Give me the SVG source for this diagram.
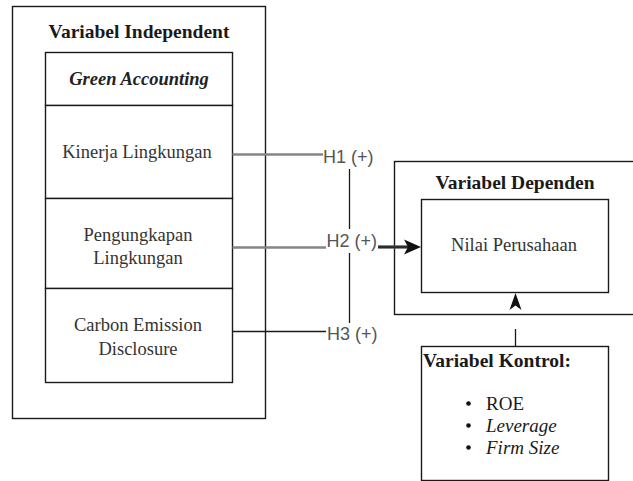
<svg xmlns="http://www.w3.org/2000/svg" width="633" height="481" viewBox="0 0 633 481">
<style>
.box{fill:#fff;stroke:#1a1a1a;stroke-width:1.4}
.gl{stroke:#858585;stroke-width:2.6;fill:none}
.bl{stroke:#1a1a1a;stroke-width:1.3;fill:none}
</style>
<g id="independent">
<rect class="box" x="12.5" y="6.5" width="253" height="412"/>
<text x="139" y="37.5" font-family="Liberation Serif" font-size="19.5" font-weight="bold" fill="#1a1a1a" text-anchor="middle">Variabel Independent</text>
</g>
<g id="green-accounting">
<rect class="box" x="45.5" y="52.5" width="187" height="53"/>
<text x="139" y="85" font-family="Liberation Serif" font-size="18.5" font-weight="bold" font-style="italic" fill="#222" text-anchor="middle">Green Accounting</text>
</g>
<g id="kinerja">
<rect class="box" x="45.5" y="105.5" width="187" height="93"/>
<text x="137" y="157.5" font-family="Liberation Serif" font-size="18.5" fill="#333" text-anchor="middle">Kinerja Lingkungan</text>
</g>
<g id="pengungkapan">
<rect class="box" x="45.5" y="198.5" width="187" height="90"/>
<text x="138" y="240.5" font-family="Liberation Serif" font-size="18.5" fill="#333" text-anchor="middle">Pengungkapan</text>
<text x="138" y="264" font-family="Liberation Serif" font-size="18.5" fill="#333" text-anchor="middle">Lingkungan</text>
</g>
<g id="carbon">
<rect class="box" x="45.5" y="288.5" width="187" height="94"/>
<text x="138" y="331" font-family="Liberation Serif" font-size="18.5" fill="#333" text-anchor="middle">Carbon Emission</text>
<text x="138" y="354.5" font-family="Liberation Serif" font-size="18.5" fill="#333" text-anchor="middle">Disclosure</text>
</g>
<g id="dependen">
<rect class="box" x="394.5" y="161.5" width="250" height="153"/>
<text x="515" y="189" font-family="Liberation Serif" font-size="19.5" font-weight="bold" fill="#1a1a1a" text-anchor="middle">Variabel Dependen</text>
</g>
<g id="nilai">
<rect class="box" x="421.5" y="199.5" width="187" height="93"/>
<text x="514" y="251" font-family="Liberation Serif" font-size="18.5" fill="#333" text-anchor="middle">Nilai Perusahaan</text>
</g>
<g id="kontrol">
<rect class="box" x="421.5" y="346.5" width="187" height="134"/>
<text x="423" y="366.5" font-family="Liberation Serif" font-size="19.5" font-weight="bold" fill="#1a1a1a">Variabel Kontrol:</text>
<circle cx="468.5" cy="403.5" r="2.3" fill="#111"/>
<circle cx="468.5" cy="425.5" r="2.3" fill="#111"/>
<circle cx="468.5" cy="447.5" r="2.3" fill="#111"/>
<text x="486" y="409.5" font-family="Liberation Serif" font-size="19" fill="#1a1a1a">ROE</text>
<text x="486" y="431.5" font-family="Liberation Serif" font-size="19" font-style="italic" fill="#1a1a1a">Leverage</text>
<text x="486" y="453.5" font-family="Liberation Serif" font-size="19" font-style="italic" fill="#1a1a1a">Firm Size</text>
</g>
<g id="connectors">
<line class="gl" x1="232.5" y1="154.5" x2="323" y2="154.5"/>
<line class="gl" x1="232.5" y1="247.5" x2="326" y2="247.5"/>
<line class="bl" x1="232.5" y1="331.5" x2="326" y2="331.5"/>
<line class="bl" x1="349.5" y1="169" x2="349.5" y2="229"/>
<line class="bl" x1="349.5" y1="253" x2="349.5" y2="323"/>
<line x1="378" y1="247" x2="410" y2="247" stroke="#555" stroke-width="3.4"/>
<line x1="378" y1="247" x2="410" y2="247" stroke="#111" stroke-width="1.2"/>
<path d="M421,247 L404,239.5 L408,247 L404,254.5 Z" fill="#111"/>
<line class="bl" x1="515.5" y1="329" x2="515.5" y2="347"/>
<path d="M515.5,293 L521.5,310 L515.5,305.5 L509.5,310 Z" fill="#111"/>
<text x="323" y="162.5" font-family="Liberation Sans" font-size="18" fill="#555">H1 (+)</text>
<text x="326.5" y="246.5" font-family="Liberation Sans" font-size="18" fill="#555">H2 (+)</text>
<text x="327" y="340" font-family="Liberation Sans" font-size="18" fill="#555">H3 (+)</text>
</g>
</svg>
